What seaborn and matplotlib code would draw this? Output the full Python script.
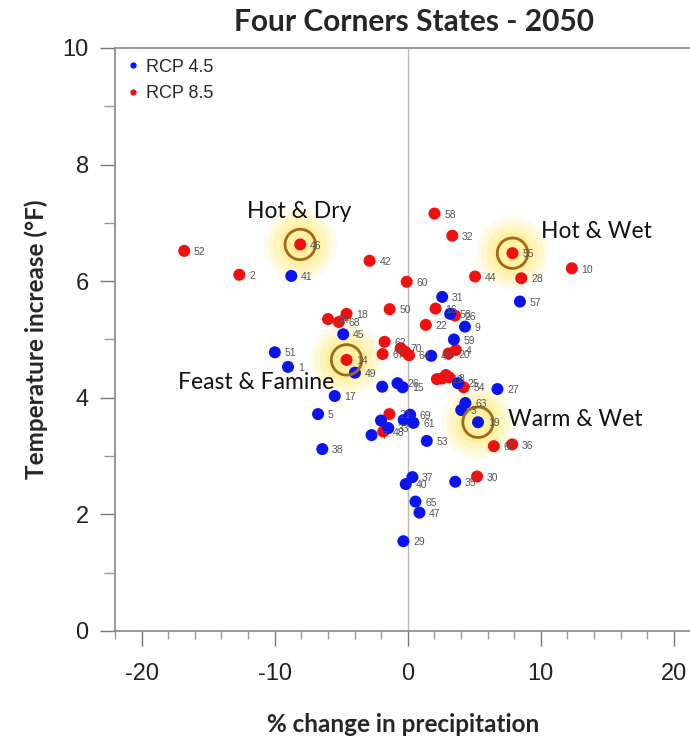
import matplotlib
matplotlib.use("Agg")
import matplotlib.pyplot as plt
import seaborn as sns
import pandas as pd
from matplotlib.lines import Line2D
from matplotlib.ticker import MultipleLocator

# RCP 4.5 models (blue)
rcp45_id = ["1", "51", "41", "45", "49", "17", "5", "38", "31", "57", "56", "9",
            "59", "43", "", "26", "15", "25", "27", "63", "3", "19", "69", "61",
            "", "", "7", "33", "53", "35", "37", "40", "65", "47", "29"]
rcp45_x = [-9.0, -9.99, -8.75, -4.85, -3.97, -5.49, -6.74, -6.42, 2.59, 8.43, 3.19, 4.3,
           3.47, 1.76, -1.92, -0.77, -0.38, 3.77, 6.74, 4.33, 4.02, 5.28, 0.18, 0.43,
           -0.3, -2.01, -2.72, -1.46, 1.43, 3.57, 0.35, -0.15, 0.58, 0.88, -0.33]
rcp45_y = [4.53, 4.78, 6.09, 5.09, 4.43, 4.03, 3.72, 3.12, 5.73, 5.65, 5.44, 5.22,
           5.0, 4.72, 4.19, 4.25, 4.18, 4.25, 4.15, 3.91, 3.79, 3.58, 3.71, 3.57,
           3.62, 3.61, 3.36, 3.48, 3.26, 2.56, 2.64, 2.52, 2.22, 2.03, 1.54]

# RCP 8.5 models (red)
rcp85_id = ["52", "2", "46", "42", "58", "32", "55", "44", "28", "10", "60", "50",
            "16", "26", "18", "24", "68", "22", "62", "67", "70", "", "64", "20",
            "4", "14", "", "12", "", "8", "54", "21", "48", "36", "66", "30"]
rcp85_x = [-16.8, -12.66, -8.08, -2.87, 2.01, 3.35, 7.87, 5.06, 8.53, 12.33, -0.08, -1.36,
           2.09, 3.55, -4.6, -5.99, -5.18, 1.36, -1.74, -1.89, -0.53, -0.2, 0.1, 3.07,
           3.62, -4.6, 2.19, 2.57, 2.87, 3.12, 4.2, -1.38, -1.84, 7.85, 6.47, 5.21]
rcp85_y = [6.52, 6.11, 6.63, 6.35, 7.16, 6.78, 6.48, 6.08, 6.05, 6.22, 5.99, 5.52,
           5.53, 5.41, 5.44, 5.35, 5.30, 5.25, 4.96, 4.75, 4.85, 4.79, 4.73, 4.76,
           4.82, 4.65, 4.32, 4.33, 4.39, 4.35, 4.18, 3.72, 3.42, 3.2, 3.17, 2.65]

# highlighted scenarios
scenario_names = ["Hot & Dry", "Hot & Wet", "Feast & Famine", "Warm & Wet"]
scenario_x = [-8.08, 7.87, -4.6, 5.28]
scenario_y = [6.63, 6.48, 4.65, 3.58]
scenario_text_x = [-8.15, 14.2, -11.4, 12.6]
scenario_text_y = [7.19, 6.86, 4.27, 3.62]

BLUE = "#0a14f0"
RED = "#f01010"

df45 = pd.DataFrame({"x": rcp45_x, "y": rcp45_y, "id": rcp45_id})
df85 = pd.DataFrame({"x": rcp85_x, "y": rcp85_y, "id": rcp85_id})
hl = pd.DataFrame({"x": scenario_x, "y": scenario_y})

sns.set_theme(style="ticks")
plt.rcParams["font.family"] = ["Liberation Sans", "DejaVu Sans"]
plt.rcParams["axes.unicode_minus"] = False

fig = plt.figure(figsize=(6.9, 7.38), dpi=100)
ax = fig.add_axes([0.1667, 0.145, 0.835, 0.79])

# yellow glow behind the highlighted models
for s, a in [(2800, 0.10), (2100, 0.14), (1500, 0.18), (900, 0.22)]:
    sns.scatterplot(data=hl, x="x", y="y", s=s, color="#ffe44a", alpha=a,
                    edgecolor="none", ax=ax, zorder=1, legend=False)

ax.axvline(0, color="#b8b8b8", lw=1.0, zorder=0)

sns.scatterplot(data=df85, x="x", y="y", s=75, color=RED, edgecolor="none",
                ax=ax, zorder=3, legend=False)
sns.scatterplot(data=df45, x="x", y="y", s=75, color=BLUE, edgecolor="none",
                ax=ax, zorder=3, legend=False)

# brown rings
ax.scatter(scenario_x, scenario_y, s=480, facecolor="none", edgecolor="#a06a1a",
           linewidth=2, zorder=4)

for d in (df45, df85):
    for _, r in d.iterrows():
        if r["id"]:
            ax.annotate(r["id"], (r["x"], r["y"]), xytext=(7, -3),
                        textcoords="offset points", fontsize=7.5, color="#555555",
                        zorder=5)

for name, tx, ty in zip(scenario_names, scenario_text_x, scenario_text_y):
    ax.text(tx, ty, name, ha="center", va="center", fontsize=16.5,
            family=["Lato", "DejaVu Sans"], color="#111111", zorder=6)

ax.set_xlim(-22, 21.3)
ax.set_ylim(0, 10)
ax.xaxis.set_major_locator(MultipleLocator(10))
ax.xaxis.set_minor_locator(MultipleLocator(2))
ax.yaxis.set_major_locator(MultipleLocator(2))
ax.yaxis.set_minor_locator(MultipleLocator(1))
ax.tick_params(axis="x", which="major", length=11, width=1, color="#777777",
               labelsize=17, pad=12, labelcolor="#222222")
ax.tick_params(axis="x", which="minor", length=6, width=1, color="#999999")
ax.tick_params(axis="y", which="major", length=11, width=1, color="#777777",
               labelsize=17, pad=8, labelcolor="#222222")
ax.tick_params(axis="y", which="minor", length=8, width=1, color="#999999")

for side in ("left", "bottom", "top"):
    ax.spines[side].set_color("#888888")
    ax.spines[side].set_linewidth(1.2)
ax.spines["right"].set_visible(False)

ax.set_xlabel("% change in precipitation", fontsize=17.5, fontweight="bold",
              family=["Lato", "DejaVu Sans"], labelpad=20)
ax.set_ylabel("Temperature increase (°F)", fontsize=17.5, fontweight="bold",
              family=["Lato", "DejaVu Sans"], labelpad=10)
ax.set_title("Four Corners States - 2050", fontsize=21.5, fontweight="bold",
             family=["Lato", "DejaVu Sans"], pad=12, x=0.519)

handles = [
    Line2D([], [], marker="o", ls="", color=BLUE, markersize=3.5, label="RCP 4.5"),
    Line2D([], [], marker="o", ls="", color=RED, markersize=3.5, label="RCP 8.5"),
]
ax.legend(handles=handles, loc="upper left", frameon=False, fontsize=13,
          handletextpad=0.3, borderaxespad=0.2, labelspacing=0.5, handlelength=0.8)

fig.savefig("out.png", dpi=100)
